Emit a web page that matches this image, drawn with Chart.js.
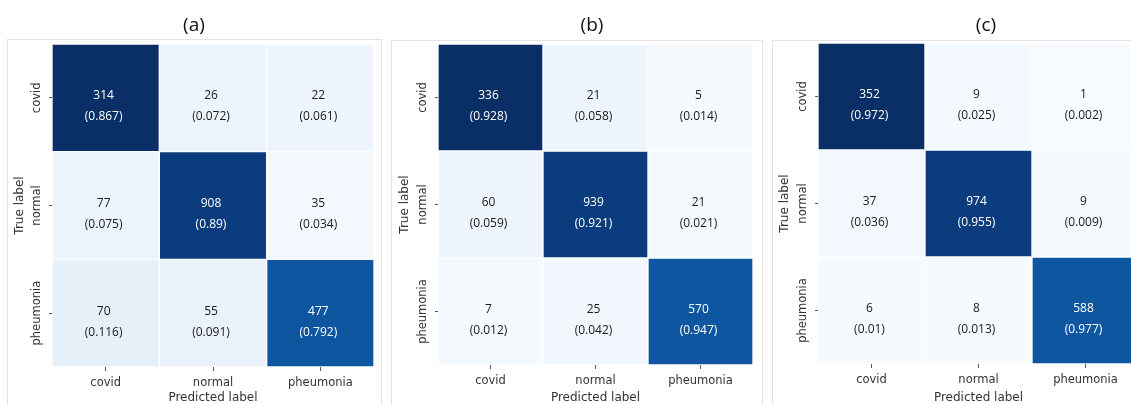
<!DOCTYPE html>
<html>
<head>
<meta charset="utf-8">
<script src="https://cdn.jsdelivr.net/npm/chart.js@4.4.1/dist/chart.umd.min.js"></script>
<style>
  html, body { margin: 0; padding: 0; background: #fff; }
  #wrap { position: relative; width: 1131px; height: 405px; overflow: hidden; }
  .frame { position: absolute; border: 1px solid #e4e4e4; border-bottom: none; height: 400px; }
  canvas { position: absolute; top: 0; }
</style>
</head>
<body>
<div id="wrap"></div>
<script>
// Class names (rows = true label, columns = predicted label)
const categories = ['covid', 'normal', 'pheumonia'];
const panelTitles = ['(a)', '(b)', '(c)'];

// Counts and row-normalised fractions, one row per true label
const countsA = [[314, 26, 22], [77, 908, 35], [70, 55, 477]];
const fracsA = [[0.867, 0.072, 0.061], [0.075, 0.89, 0.034], [0.116, 0.091, 0.792]];
const countsB = [[336, 21, 5], [60, 939, 21], [7, 25, 570]];
const fracsB = [[0.928, 0.058, 0.014], [0.059, 0.921, 0.021], [0.012, 0.042, 0.947]];
const countsC = [[352, 9, 1], [37, 974, 9], [6, 8, 588]];
const fracsC = [[0.972, 0.025, 0.002], [0.036, 0.955, 0.009], [0.01, 0.013, 0.977]];

// Blues colormap stops for the light cells
const bluesStops = ['#f7fbff', '#deebf7', '#c6dbef', '#9ecae1', '#6baed6', '#4292c6', '#2171b5', '#08519c', '#08306b'];
// The diagonal cells in the picture are shaded by row
const diagShades = ['#0a2f66', '#0b3d7e', '#0e569f'];

function hexToRgb(h) {
    return [parseInt(h.substr(1, 2), 16), parseInt(h.substr(3, 2), 16), parseInt(h.substr(5, 2), 16)];
}

function blues(f) {
    let t = Math.max(0, Math.min(1, f)) * (bluesStops.length - 1);
    let i = Math.min(Math.floor(t), bluesStops.length - 2);
    let k = t - i;
    let a = hexToRgb(bluesStops[i]);
    let b = hexToRgb(bluesStops[i + 1]);
    let c = a.map((v, j) => Math.round(v + (b[j] - v) * k));
    return 'rgb(' + c.join(',') + ')';
}

function cellColor(f, row, col) {
    if (row === col)
        return diagShades[row];
    // off-diagonal cells look paler than the plain colormap
    return blues(f * 0.75);
}

// Placement of the three panels in the 1131x405 picture
const panels = [
    { title: panelTitles[0], counts: countsA, fracs: fracsA, left: 0, width: 385,
      grid: { l: 52, r: 374, t: 44, b: 367 }, yTitleX: 20, yTickX: 37, titleX: 194,
      frame: { l: 7, t: 39, r: 380 } },
    { title: panelTitles[1], counts: countsB, fracs: fracsB, left: 385, width: 381,
      grid: { l: 438, r: 753, t: 44, b: 365 }, yTitleX: 405, yTickX: 423, titleX: 592,
      frame: { l: 391, t: 40, r: 761 } },
    { title: panelTitles[2], counts: countsC, fracs: fracsC, left: 766, width: 379,
      grid: { l: 818, r: 1139, t: 43, b: 364 }, yTitleX: 785, yTickX: 803, titleX: 986,
      frame: { l: 772, t: 40, r: 1160 } }
];

const wrap = document.getElementById('wrap');
const labelFont = 'DejaVu Sans';

panels.forEach((p) => {
    let frame = document.createElement('div');
    frame.className = 'frame';
    frame.style.left = p.frame.l + 'px';
    frame.style.top = p.frame.t + 'px';
    frame.style.width = (p.frame.r - p.frame.l) + 'px';
    wrap.appendChild(frame);

    let cv = document.createElement('canvas');
    cv.width = p.width;
    cv.height = 405;
    cv.style.left = p.left + 'px';
    wrap.appendChild(cv);

    // Writes count and fraction into each cell
    const cellText = {
        id: 'cellText',
        afterDatasetsDraw(chart) {
            let ctx = chart.ctx;
            ctx.save();
            ctx.textAlign = 'center';
            ctx.textBaseline = 'middle';
            ctx.font = '12px "Open Sans"';
            chart.data.datasets.forEach((ds, r) => {
                chart.getDatasetMeta(r).data.forEach((el, c) => {
                    let cx = el.x - 2;
                    let cy = (el.y + el.base) / 2;
                    ctx.fillStyle = p.fracs[r][c] > 0.5 ? '#ffffff' : '#1a1a1a';
                    ctx.fillText(String(p.counts[r][c]), cx, cy - 2);
                    ctx.fillText('(' + p.fracs[r][c] + ')', cx, cy + 19);
                });
            });
            ctx.restore();
        }
    };

    // Rotated row labels on the y axis and the panel title
    const rowLabels = {
        id: 'rowLabels',
        afterDraw(chart) {
            let ctx = chart.ctx;
            let y = chart.scales.y;
            ctx.save();
            ctx.fillStyle = '#333';
            ctx.font = '11.5px "' + labelFont + '"';
            ctx.textAlign = 'center';
            ctx.textBaseline = 'middle';
            categories.forEach((name, r) => {
                ctx.save();
                ctx.translate(p.yTickX - p.left, y.getPixelForValue(r + 0.5));
                ctx.rotate(-Math.PI / 2);
                ctx.fillText(name, 0, 0);
                ctx.restore();
            });
            ctx.fillStyle = '#111';
            ctx.font = '19px "Open Sans"';
            ctx.fillText(p.title, p.titleX - p.left, 26);
            ctx.restore();
        }
    };

    new Chart(cv, {
        type: 'bar',
        data: {
            labels: categories,
            datasets: categories.map((rowName, r) => ({
                label: rowName,
                data: categories.map(() => [r, r + 1]),
                backgroundColor: (ctx) => cellColor(p.fracs[r][ctx.dataIndex], r, ctx.dataIndex),
                borderColor: '#ffffff',
                borderWidth: 1,
                borderSkipped: false,
                barPercentage: 1,
                categoryPercentage: 1,
                grouped: false
            }))
        },
        options: {
            responsive: false,
            animation: false,
            devicePixelRatio: 1,
            layout: {
                padding: { left: 0, top: p.grid.t, right: p.left + p.width - p.grid.r, bottom: 0 }
            },
            plugins: {
                legend: { display: false },
                tooltip: { enabled: false },
                title: { display: false }
            },
            scales: {
                x: {
                    type: 'category',
                    offset: true,
                    grid: { offset: false, drawOnChartArea: false, drawTicks: true, tickLength: 4, color: '#555' },
                    border: { display: false },
                    ticks: { padding: 5, color: '#333', maxRotation: 0, font: { family: labelFont, size: 11.5 } },
                    title: {
                        display: true, text: 'Predicted label', color: '#333',
                        font: { family: labelFont, size: 12 }, padding: { top: 0, bottom: 0 }
                    },
                    afterFit: (s) => { s.height = 405 - p.grid.b; }
                },
                y: {
                    type: 'linear',
                    min: 0,
                    max: 3,
                    reverse: true,
                    afterBuildTicks: (s) => { s.ticks = [0.5, 1.5, 2.5].map(v => ({ value: v })); },
                    grid: { drawOnChartArea: false, drawTicks: true, tickLength: 3, color: '#555' },
                    border: { display: false },
                    ticks: { display: false },
                    title: {
                        display: true, text: 'True label', color: '#333',
                        font: { family: labelFont, size: 12 },
                        padding: { top: p.yTitleX - p.left - 7.2, bottom: 0 }
                    },
                    afterFit: (s) => { s.width = p.grid.l - p.left; }
                }
            }
        },
        plugins: [cellText, rowLabels]
    });
});
</script>
</body>
</html>
